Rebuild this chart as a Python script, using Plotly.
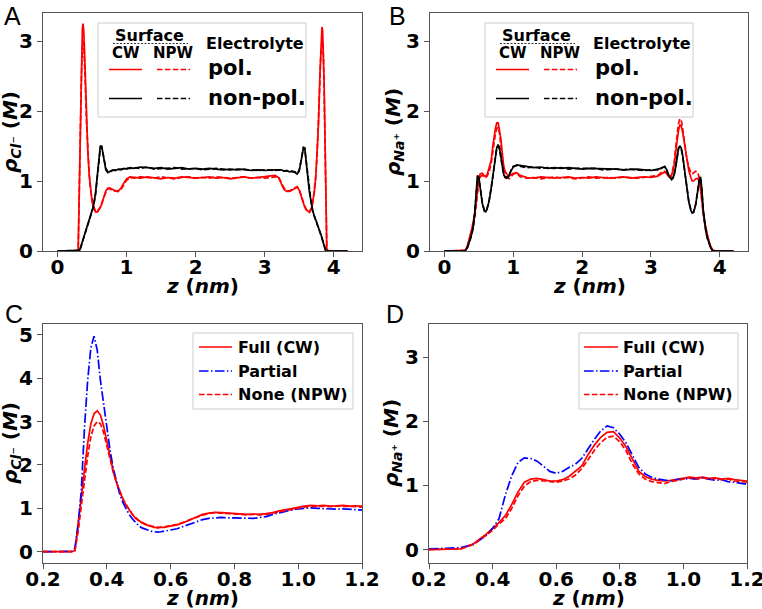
import plotly.graph_objects as go

W, H = 762, 609

# ---------------- Panel A / B data (z in nm, density in M) ----------------
xA_left = [0.00, 0.10, 0.20, 0.28, 0.30, 0.31, 0.32, 0.33, 0.34, 0.35, 0.36, 0.37, 0.38, 0.39, 0.40, 0.42, 0.44, 0.46, 0.48,
           0.50, 0.52, 0.55, 0.58, 0.60, 0.62, 0.64, 0.67, 0.70, 0.73, 0.76, 0.80, 0.84, 0.88, 0.92, 0.96, 1.00, 1.05]
xA_mid = [1.10, 1.20, 1.30, 1.40, 1.50, 1.60, 1.70, 1.80, 1.90, 2.00, 2.10, 2.20, 2.30, 2.40, 2.50, 2.60, 2.70, 2.80, 2.90, 3.00, 3.10]
xA_right = [3.15, 3.20, 3.24, 3.28, 3.32, 3.36, 3.40, 3.44, 3.47, 3.50, 3.53, 3.56, 3.58, 3.60, 3.62, 3.65, 3.68, 3.70, 3.72,
            3.74, 3.76, 3.78, 3.80, 3.81, 3.82, 3.83, 3.84, 3.85, 3.86, 3.87, 3.88, 3.89, 3.90, 3.92, 4.00, 4.10, 4.20]
xA = xA_left + xA_mid + xA_right

cl_pol_cw = ([0, 0, 0, 0, 0.03, 0.6, 1.25, 1.9, 2.5, 2.95, 3.18, 3.25, 3.15, 2.9, 2.55, 1.86, 1.4, 1.08, 0.86,
              0.71, 0.63, 0.56, 0.56, 0.59, 0.62, 0.67, 0.76, 0.86, 0.9, 0.9, 0.88, 0.86, 0.86, 0.9, 0.97, 1.03, 1.06]
             + [1.05, 1.04, 1.06, 1.05, 1.03, 1.05, 1.04, 1.06, 1.05, 1.04, 1.05, 1.06, 1.04, 1.05, 1.03, 1.05, 1.06, 1.04, 1.05, 1.06, 1.07]
             + [1.08, 1.05, 0.96, 0.88, 0.85, 0.85, 0.87, 0.9, 0.91, 0.87, 0.77, 0.68, 0.63, 0.59, 0.57, 0.55, 0.61, 0.7, 0.84,
                1.05, 1.36, 1.82, 2.5, 2.86, 3.1, 3.2, 3.15, 2.92, 2.48, 1.88, 1.22, 0.58, 0.03, 0, 0, 0, 0])
cl_pol_npw = ([0, 0, 0, 0, 0.02, 0.45, 1.05, 1.65, 2.2, 2.65, 2.9, 3.0, 2.95, 2.75, 2.45, 1.84, 1.4, 1.09, 0.87,
               0.72, 0.64, 0.57, 0.57, 0.6, 0.63, 0.68, 0.77, 0.84, 0.89, 0.89, 0.86, 0.85, 0.85, 0.88, 0.95, 1.01, 1.05]
              + [1.04, 1.06, 1.05, 1.04, 1.06, 1.05, 1.03, 1.05, 1.06, 1.04, 1.05, 1.04, 1.06, 1.05, 1.04, 1.05, 1.06, 1.04, 1.05, 1.04, 1.06]
              + [1.06, 1.06, 0.98, 0.9, 0.86, 0.86, 0.88, 0.91, 0.92, 0.88, 0.78, 0.69, 0.64, 0.6, 0.58, 0.57, 0.62, 0.71, 0.85,
                 1.06, 1.37, 1.8, 2.42, 2.72, 2.9, 3.0, 2.98, 2.8, 2.4, 1.85, 1.2, 0.55, 0.03, 0, 0, 0, 0])
cl_np_cw = ([0, 0, 0, 0, 0, 0, 0.01, 0.04, 0.07, 0.11, 0.15, 0.19, 0.22, 0.25, 0.28, 0.34, 0.4, 0.45, 0.5,
             0.56, 0.64, 0.82, 1.1, 1.33, 1.5, 1.5, 1.3, 1.16, 1.12, 1.14, 1.16, 1.15, 1.17, 1.16, 1.18, 1.17, 1.19]
            + [1.18, 1.2, 1.19, 1.18, 1.19, 1.17, 1.18, 1.19, 1.17, 1.18, 1.17, 1.18, 1.17, 1.16, 1.17, 1.16, 1.17, 1.15, 1.16, 1.15, 1.16]
            + [1.16, 1.15, 1.16, 1.14, 1.15, 1.13, 1.14, 1.12, 1.1, 1.14, 1.28, 1.46, 1.48, 1.32, 1.1, 0.83, 0.65, 0.56, 0.5,
               0.45, 0.4, 0.34, 0.28, 0.25, 0.22, 0.18, 0.15, 0.11, 0.07, 0.04, 0.01, 0, 0, 0, 0, 0, 0])
cl_np_npw = ([0, 0, 0, 0, 0, 0, 0.01, 0.03, 0.06, 0.1, 0.14, 0.18, 0.21, 0.24, 0.27, 0.33, 0.39, 0.44, 0.5,
              0.56, 0.63, 0.8, 1.07, 1.3, 1.47, 1.49, 1.32, 1.18, 1.13, 1.13, 1.15, 1.16, 1.16, 1.17, 1.17, 1.18, 1.18]
             + [1.19, 1.18, 1.2, 1.17, 1.18, 1.18, 1.19, 1.17, 1.18, 1.18, 1.16, 1.17, 1.18, 1.17, 1.16, 1.17, 1.16, 1.16, 1.15, 1.16, 1.15]
             + [1.15, 1.16, 1.15, 1.15, 1.14, 1.14, 1.13, 1.13, 1.11, 1.15, 1.3, 1.48, 1.47, 1.3, 1.08, 0.82, 0.64, 0.55, 0.5,
                0.44, 0.39, 0.33, 0.27, 0.24, 0.21, 0.18, 0.14, 0.1, 0.06, 0.03, 0.01, 0, 0, 0, 0, 0, 0])

xB_left = [0.00, 0.10, 0.20, 0.25, 0.30, 0.33, 0.36, 0.38, 0.40, 0.42, 0.44, 0.46, 0.48, 0.50, 0.52, 0.55, 0.58, 0.60, 0.62,
           0.65, 0.68, 0.70, 0.72, 0.74, 0.76, 0.78, 0.80, 0.82, 0.84, 0.86, 0.88, 0.90, 0.92, 0.94, 0.97, 1.00, 1.05]
xB_mid = [1.10, 1.20, 1.30, 1.40, 1.50, 1.60, 1.70, 1.80, 1.90, 2.00, 2.10, 2.20, 2.30, 2.40, 2.50, 2.60, 2.70, 2.80, 2.90, 3.00, 3.10]
xB_right = [3.15, 3.20, 3.23, 3.26, 3.28, 3.30, 3.32, 3.34, 3.36, 3.38, 3.40, 3.42, 3.44, 3.46, 3.48, 3.50, 3.52, 3.55, 3.58,
            3.60, 3.62, 3.65, 3.68, 3.70, 3.72, 3.74, 3.76, 3.78, 3.80, 3.82, 3.84, 3.87, 3.90, 3.95, 4.00, 4.10, 4.20]
xB = xB_left + xB_mid + xB_right

na_pol_cw = ([0, 0, 0, 0, 0.01, 0.06, 0.16, 0.24, 0.33, 0.43, 0.53, 0.7, 0.9, 1.05, 1.1, 1.11, 1.07, 1.07, 1.09,
              1.18, 1.3, 1.48, 1.63, 1.75, 1.83, 1.83, 1.72, 1.6, 1.4, 1.22, 1.14, 1.1, 1.08, 1.07, 1.09, 1.11, 1.12]
             + [1.08, 1.05, 1.04, 1.06, 1.05, 1.04, 1.05, 1.06, 1.04, 1.05, 1.04, 1.06, 1.05, 1.04, 1.05, 1.06, 1.04, 1.05, 1.06, 1.05, 1.07]
             + [1.1, 1.13, 1.1, 1.06, 1.06, 1.09, 1.15, 1.24, 1.42, 1.6, 1.72, 1.8, 1.79, 1.7, 1.58, 1.44, 1.28, 1.15, 1.05,
                1.0, 1.0, 1.03, 1.04, 1.0, 0.88, 0.7, 0.53, 0.42, 0.32, 0.23, 0.15, 0.06, 0.01, 0, 0, 0, 0])
na_pol_npw = ([0, 0, 0, 0, 0.01, 0.05, 0.15, 0.22, 0.3, 0.4, 0.48, 0.64, 0.84, 0.99, 1.06, 1.08, 1.05, 1.05, 1.07,
               1.13, 1.26, 1.4, 1.55, 1.67, 1.75, 1.77, 1.68, 1.54, 1.33, 1.18, 1.1, 1.06, 1.05, 1.03, 1.06, 1.1, 1.11]
              + [1.06, 1.04, 1.05, 1.03, 1.05, 1.06, 1.04, 1.05, 1.03, 1.05, 1.06, 1.04, 1.05, 1.05, 1.04, 1.06, 1.05, 1.04, 1.05, 1.06, 1.08]
              + [1.12, 1.14, 1.11, 1.07, 1.05, 1.08, 1.16, 1.28, 1.48, 1.68, 1.82, 1.89, 1.87, 1.76, 1.62, 1.47, 1.32, 1.2, 1.12,
                 1.1, 1.12, 1.14, 1.12, 1.05, 0.9, 0.7, 0.52, 0.41, 0.31, 0.22, 0.14, 0.05, 0.01, 0, 0, 0, 0])
na_np_cw = ([0, 0, 0, 0, 0, 0.04, 0.12, 0.19, 0.26, 0.36, 0.55, 0.85, 1.08, 1.05, 0.9, 0.68, 0.57, 0.56, 0.6,
             0.72, 0.9, 1.05, 1.22, 1.38, 1.48, 1.52, 1.47, 1.35, 1.2, 1.1, 1.05, 1.04, 1.05, 1.08, 1.15, 1.2, 1.23]
            + [1.22, 1.2, 1.19, 1.2, 1.18, 1.19, 1.18, 1.19, 1.18, 1.17, 1.18, 1.18, 1.17, 1.18, 1.17, 1.16, 1.17, 1.17, 1.16, 1.15, 1.17]
            + [1.18, 1.21, 1.16, 1.08, 1.04, 1.02, 1.04, 1.1, 1.2, 1.34, 1.46, 1.5, 1.47, 1.37, 1.21, 1.04, 0.88, 0.7, 0.58,
               0.54, 0.55, 0.66, 0.86, 1.0, 1.06, 0.88, 0.58, 0.38, 0.27, 0.19, 0.12, 0.04, 0, 0, 0, 0, 0])
na_np_npw = ([0, 0, 0, 0, 0, 0.04, 0.11, 0.18, 0.25, 0.35, 0.53, 0.83, 1.06, 1.04, 0.9, 0.69, 0.58, 0.57, 0.61,
              0.73, 0.91, 1.06, 1.22, 1.37, 1.47, 1.5, 1.45, 1.33, 1.19, 1.1, 1.06, 1.05, 1.06, 1.09, 1.16, 1.21, 1.22]
             + [1.21, 1.19, 1.2, 1.18, 1.19, 1.18, 1.19, 1.17, 1.18, 1.18, 1.17, 1.18, 1.16, 1.17, 1.17, 1.16, 1.17, 1.16, 1.15, 1.16, 1.16]
             + [1.19, 1.2, 1.15, 1.07, 1.05, 1.03, 1.05, 1.11, 1.21, 1.35, 1.47, 1.49, 1.46, 1.36, 1.2, 1.03, 0.87, 0.71, 0.59,
                0.55, 0.56, 0.67, 0.87, 1.01, 1.05, 0.86, 0.56, 0.37, 0.26, 0.18, 0.11, 0.04, 0, 0, 0, 0, 0])

# ---------------- Panel C data (Cl-, zoom near wall) ----------------
xC = ([0.20, 0.25, 0.28, 0.29]
      + [0.30, 0.31, 0.32, 0.33, 0.34, 0.35, 0.36, 0.37, 0.38, 0.39, 0.40, 0.41, 0.42, 0.43, 0.44, 0.45,
         0.46, 0.47, 0.48, 0.49, 0.50, 0.51, 0.52, 0.53, 0.54, 0.55, 0.56, 0.57, 0.58, 0.59, 0.60]
      + [0.62, 0.64, 0.66, 0.68, 0.70, 0.72, 0.74, 0.76, 0.78, 0.80, 0.82, 0.84, 0.86, 0.88, 0.90,
         0.92, 0.94, 0.96, 0.98, 1.00, 1.02, 1.04, 1.06, 1.08, 1.10, 1.12, 1.14, 1.16, 1.18, 1.20])
c_full = ([0, 0, 0, 0]
          + [0.03, 0.6, 1.25, 1.9, 2.5, 2.95, 3.18, 3.25, 3.15, 2.9, 2.55, 2.17, 1.86, 1.6, 1.4, 1.22,
             1.08, 0.96, 0.86, 0.77, 0.71, 0.67, 0.63, 0.6, 0.58, 0.56, 0.55, 0.56, 0.56, 0.58, 0.59]
          + [0.62, 0.67, 0.73, 0.8, 0.86, 0.89, 0.91, 0.9, 0.89, 0.88, 0.87, 0.86, 0.87, 0.86, 0.88,
             0.9, 0.94, 0.97, 1.0, 1.03, 1.05, 1.07, 1.06, 1.07, 1.05, 1.06, 1.07, 1.05, 1.06, 1.05])
c_partial = ([0, 0, 0, 0.01]
             + [0.08, 0.6, 1.4, 2.85, 3.95, 4.7, 4.97, 4.65, 3.95, 3.4, 2.85, 2.35, 1.93, 1.6, 1.34, 1.14,
                0.99, 0.86, 0.76, 0.67, 0.6, 0.55, 0.52, 0.49, 0.47, 0.46, 0.45, 0.46, 0.47, 0.48, 0.5]
             + [0.53, 0.58, 0.63, 0.69, 0.74, 0.77, 0.78, 0.79, 0.78, 0.78, 0.77, 0.78, 0.77, 0.79, 0.81,
                0.86, 0.9, 0.93, 0.96, 0.99, 1.0, 1.01, 1.0, 0.99, 0.99, 0.98, 0.99, 0.98, 0.97, 0.96])
c_none = ([0, 0, 0, 0]
          + [0.02, 0.45, 1.05, 1.65, 2.2, 2.65, 2.9, 3.0, 2.95, 2.75, 2.45, 2.12, 1.84, 1.6, 1.4, 1.23,
             1.09, 0.97, 0.87, 0.79, 0.72, 0.68, 0.64, 0.61, 0.59, 0.57, 0.56, 0.57, 0.57, 0.59, 0.6]
          + [0.63, 0.68, 0.74, 0.79, 0.84, 0.88, 0.9, 0.89, 0.88, 0.86, 0.86, 0.85, 0.86, 0.85, 0.86,
             0.89, 0.92, 0.95, 0.98, 1.01, 1.03, 1.05, 1.04, 1.05, 1.04, 1.05, 1.05, 1.04, 1.04, 1.03])

# ---------------- Panel D data (Na+, zoom near wall) ----------------
xD = ([0.20, 0.25, 0.30, 0.34, 0.38]
      + [0.40, 0.42, 0.44, 0.46, 0.48, 0.50, 0.52, 0.54, 0.56, 0.58, 0.60, 0.62, 0.64, 0.66, 0.68, 0.70,
         0.72, 0.74, 0.76, 0.78, 0.80, 0.82, 0.84, 0.86, 0.88, 0.90, 0.92, 0.94, 0.96, 0.98, 1.00,
         1.02, 1.04, 1.06, 1.08, 1.10, 1.12, 1.14, 1.16, 1.18, 1.20])
d_full = ([0.0, 0.0, 0.01, 0.09, 0.24]
          + [0.33, 0.42, 0.53, 0.7, 0.9, 1.05, 1.1, 1.11, 1.09, 1.07, 1.07, 1.09, 1.14, 1.22, 1.3, 1.48,
             1.63, 1.75, 1.83, 1.84, 1.74, 1.6, 1.4, 1.22, 1.14, 1.1, 1.08, 1.07, 1.08, 1.1, 1.11,
             1.13, 1.12, 1.13, 1.11, 1.12, 1.1, 1.11, 1.09, 1.08, 1.07])
d_partial = ([0.01, 0.02, 0.03, 0.08, 0.22]
             + [0.33, 0.48, 0.85, 1.15, 1.36, 1.43, 1.42, 1.38, 1.3, 1.22, 1.19, 1.22, 1.28, 1.33, 1.42, 1.58,
                1.72, 1.85, 1.93, 1.9, 1.8, 1.66, 1.48, 1.28, 1.18, 1.13, 1.1, 1.08, 1.07, 1.09, 1.1,
                1.11, 1.1, 1.12, 1.1, 1.08, 1.09, 1.06, 1.05, 1.04, 1.02])
d_none = ([0.0, 0.0, 0.01, 0.08, 0.22]
          + [0.3, 0.4, 0.48, 0.64, 0.84, 0.99, 1.06, 1.08, 1.07, 1.05, 1.05, 1.07, 1.1, 1.16, 1.26, 1.4,
             1.55, 1.67, 1.75, 1.77, 1.68, 1.54, 1.33, 1.18, 1.1, 1.06, 1.05, 1.03, 1.06, 1.08, 1.1,
             1.12, 1.1, 1.12, 1.1, 1.11, 1.09, 1.1, 1.07, 1.06, 1.05])

# ---------------- Text ----------------
panel_letters = ["A", "B", "C", "D"]
x_title = "<b><i>z</i> (<i>nm</i>)</b>"
y_title_cl = "<b><i>ρ</i><sub><i>Cl</i>⁻</sub> (<i>M</i>)</b>"
y_title_na = "<b><i>ρ</i><sub><i>Na</i>⁺</sub> (<i>M</i>)</b>"
legend_ab_rows = ["pol.", "non-pol."]
legend_cd_labels = ["Full (CW)", "Partial", "None (NPW)"]

RED, BLACK, BLUE = "#ff0000", "#000000", "#0000ff"
DASH = "5.5px,2.4px"
DASHDOT = "9.6px,2.4px,1.5px,2.4px"
LW = 1.7

fig = go.Figure()


def add(x, y, color, dash, xa, ya):
    fig.add_trace(go.Scatter(x=x, y=y, mode="lines", showlegend=False, hoverinfo="skip",
                             line=dict(color=color, width=LW, dash=dash), xaxis=xa, yaxis=ya))


add(xA, cl_pol_cw, RED, "solid", "x", "y")
add(xA, cl_pol_npw, RED, DASH, "x", "y")
add(xA, cl_np_cw, BLACK, "solid", "x", "y")
add(xA, cl_np_npw, BLACK, DASH, "x", "y")

add(xB, na_pol_cw, RED, "solid", "x2", "y2")
add(xB, na_pol_npw, RED, DASH, "x2", "y2")
add(xB, na_np_cw, BLACK, "solid", "x2", "y2")
add(xB, na_np_npw, BLACK, DASH, "x2", "y2")

add(xC, c_full, RED, "solid", "x3", "y3")
add(xC, c_partial, BLUE, DASHDOT, "x3", "y3")
add(xC, c_none, RED, DASH, "x3", "y3")

add(xD, d_full, RED, "solid", "x4", "y4")
add(xD, d_partial, BLUE, DASHDOT, "x4", "y4")
add(xD, d_none, RED, DASH, "x4", "y4")


def px(xp):
    return xp / W


def py(yp):
    return 1 - yp / H


FRAME = "#555555"
tickfont = dict(family="DejaVu Sans", size=20, color="black", weight="bold")
common = dict(showline=True, mirror=True, linecolor=FRAME, linewidth=1, ticks="outside", ticklen=5,
              tickwidth=1, tickcolor=FRAME, showgrid=False, zeroline=False, tickfont=tickfont,
              automargin=False, ticklabeloverflow="allow")
xcommon = dict(common, ticklabelstandoff=-7)

top = [py(251), py(13)]
bot = [py(563), py(324)]
fig.update_layout(
    width=W, height=H, margin=dict(l=0, r=0, t=0, b=0, pad=0, autoexpand=False),
    paper_bgcolor="white", plot_bgcolor="white",
    font=dict(family="DejaVu Sans", color="black"),
    xaxis=dict(domain=[px(43), px(362)], anchor="y", range=[-0.21, 4.41], tickvals=[0, 1, 2, 3, 4], **xcommon),
    yaxis=dict(domain=top, anchor="x", range=[0, 3.4], tickvals=[0, 1, 2, 3], **common),
    xaxis2=dict(domain=[px(430), px(748)], anchor="y2", range=[-0.21, 4.41], tickvals=[0, 1, 2, 3, 4], **xcommon),
    yaxis2=dict(domain=top, anchor="x2", range=[0, 3.4], tickvals=[0, 1, 2, 3], **common),
    xaxis3=dict(domain=[px(43), px(362)], anchor="y3", range=[0.2, 1.2],
                tickvals=[0.2, 0.4, 0.6, 0.8, 1.0, 1.2], tickformat=".1f", **xcommon),
    yaxis3=dict(domain=bot, anchor="x3", range=[-0.26, 5.25], tickvals=[0, 1, 2, 3, 4, 5], **common),
    xaxis4=dict(domain=[px(429), px(747)], anchor="y4", range=[0.2, 1.2],
                tickvals=[0.2, 0.4, 0.6, 0.8, 1.0, 1.2], tickformat=".1f", **xcommon),
    yaxis4=dict(domain=bot, anchor="x4", range=[-0.21, 3.52], tickvals=[0, 1, 2, 3], **common),
)

ann = []
shapes = []


def text(x, y, s, size, xanchor="center", angle=0, family="DejaVu Sans"):
    ann.append(dict(x=px(x), y=py(y), xref="paper", yref="paper", text=s, showarrow=False,
                    xanchor=xanchor, yanchor="middle", textangle=angle,
                    font=dict(family=family, size=size, color="black")))


def seg(x0, x1, y, color, dash, width=LW):
    shapes.append(dict(type="line", xref="paper", yref="paper", x0=px(x0), x1=px(x1), y0=py(y), y1=py(y),
                       line=dict(color=color, width=width, dash=dash), layer="above"))


def box(x0, y0, x1, y1):
    shapes.append(dict(type="rect", xref="paper", yref="paper", x0=px(x0), x1=px(x1), y0=py(y1), y1=py(y0),
                       line=dict(color="#cccccc", width=1), fillcolor="rgba(255,255,255,0.85)", layer="above"))


# panel letters
text(12.5, 16, panel_letters[0], 25, family="Liberation Sans")
text(397, 16, panel_letters[1], 25, family="Liberation Sans")
text(14, 314, panel_letters[2], 25, family="Liberation Sans")
text(395, 314, panel_letters[3], 25, family="Liberation Sans")

# axis titles
for cx, cy in [(202.5, 286), (589, 286), (202.5, 598), (588, 598)]:
    text(cx, cy, x_title, 20)
text(11, 132, y_title_cl, 20, angle=-90)
text(394, 132, y_title_na, 20, angle=-90)
text(11, 443, y_title_cl, 20, angle=-90)
text(392, 443, y_title_na, 20, angle=-90)

# legends A and B (table style)
for off in [0, 387]:
    box(98 + off, 23, 306 + off, 117)
    text(149 + off, 35.5, "<b>Surface</b>", 16)
    seg(113 + off, 188 + off, 43.5, "#333333", "2px,1.5px", 1)
    text(126 + off, 53, "<b>CW</b>", 15)
    text(173 + off, 53, "<b>NPW</b>", 15)
    text(255 + off, 43, "<b>Electrolyte</b>", 16)
    seg(109 + off, 142 + off, 69.5, RED, "solid", 1.5)
    seg(157 + off, 190 + off, 69.5, RED, DASH, 1.5)
    seg(109 + off, 142 + off, 98.5, BLACK, "solid", 1.5)
    seg(157 + off, 190 + off, 98.5, BLACK, DASH, 1.5)
    text(206 + off, 68, "<b>%s</b>" % legend_ab_rows[0], 21, xanchor="left")
    text(206 + off, 98, "<b>%s</b>" % legend_ab_rows[1], 21, xanchor="left")

# legends C and D
for (bx0, bx1, lx0, lx1, tx) in [(193, 353, 199, 232, 236), (579, 738, 584, 618, 621)]:
    box(bx0, 333, bx1, 409)
    styles = [(RED, "solid"), (BLUE, DASHDOT), (RED, DASH)]
    for (col, dsh), lab, yy in zip(styles, legend_cd_labels, [347, 371, 394.5]):
        seg(lx0, lx1, yy, col, dsh, 1.5)
        text(tx, yy, "<b>%s</b>" % lab, 16, xanchor="left")

fig.update_layout(annotations=ann, shapes=shapes)
fig.write_html("out.html", config={"displayModeBar": False},
               post_script="document.body.style.margin='0';document.body.style.overflow='hidden';")
